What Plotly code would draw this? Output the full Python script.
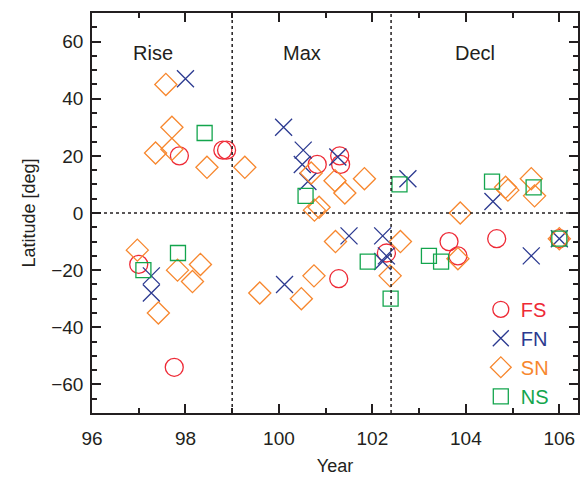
import plotly.graph_objects as go

# FS: red circles
fs_year = [97.0, 97.76, 97.87, 98.8, 98.88, 100.82, 101.3, 101.32, 101.28, 102.3, 103.64, 103.83, 104.66, 106.0]
fs_lat = [-18, -54, 20, 22, 22, 17, 20, 17, -23, -14, -10, -15, -9, -9]

# FN: blue crosses
fn_year = [97.27, 97.27, 98.0, 100.1, 100.52, 100.5, 100.62, 101.26, 100.12, 101.5, 102.22, 102.3, 102.22, 102.76, 104.58, 105.4, 106.0]
fn_lat = [-22, -28, 47, 30, 22, 17, 11, 19.6, -25, -8, -8, -15, -17, 12, 4, -15, -9]

# SN: orange diamonds
sn_year = [97.58, 97.71, 97.36, 97.71, 98.46, 99.27, 100.69, 100.76, 100.86, 101.2, 101.41, 101.83,
           103.88, 104.85, 104.9, 105.4, 105.47, 96.97, 97.42, 97.83, 98.32, 98.15, 99.59, 100.48,
           100.75, 101.21, 102.6, 102.38, 103.83, 106.0]
sn_lat = [45, 30, 21, 22.3, 16, 16, 14, 1, 2, 11.3, 7, 12,
          0, 9, 8, 12, 6, -13, -35, -20, -18, -24, -28, -30,
          -22, -10, -10, -22, -16, -9]

# NS: green squares
ns_year = [98.41, 100.57, 102.58, 104.56, 105.45, 97.1, 97.84, 101.9, 102.39, 103.21, 103.47, 106.0]
ns_lat = [28, 6, 10, 11, 9, -20, -14, -17, -30, -15, -17, -9]

phase_bounds = [99.0, 102.4]
phase_labels = ["Rise", "Max", "Decl"]
phase_label_x = [97.3, 100.5, 104.2]

RED = "#ee2a36"
BLUE = "#2b3990"
ORANGE = "#f7872e"
GREEN = "#13a54d"
INK = "#231f20"

fig = go.Figure()

series = [
    ("FS", fs_year, fs_lat, "circle-open", RED, 18),
    ("FN", fn_year, fn_lat, "x-thin-open", BLUE, 17),
    ("SN", sn_year, sn_lat, "diamond-open", ORANGE, 17),
    ("NS", ns_year, ns_lat, "square-open", GREEN, 15),
]
for name, xs, ys, sym, col, sz in series:
    fig.add_trace(go.Scatter(
        x=xs, y=ys, mode="markers",
        name=f"<span style='color:{col}'>{name}</span>",
        marker=dict(symbol=sym, size=sz, color=col, line=dict(color=col, width=1.3)),
    ))

for xb in phase_bounds:
    fig.add_shape(type="line", xref="x", yref="paper", x0=xb, x1=xb, y0=0, y1=1,
                  line=dict(color=INK, width=1.5, dash="dot"))
fig.add_shape(type="line", xref="paper", yref="y", x0=0, x1=1, y0=0, y1=0,
              line=dict(color=INK, width=1.5, dash="dot"))

for lab, lx in zip(phase_labels, phase_label_x):
    fig.add_annotation(x=lx, y=56, text=lab, showarrow=False,
                       font=dict(size=20, color=INK))

axis_common = dict(
    showgrid=False, zeroline=False, showline=True, linecolor=INK, linewidth=1.5,
    mirror="ticks", ticks="inside", tickcolor=INK, tickwidth=1.5, ticklen=9,
    tickfont=dict(size=19, color=INK), title_font=dict(size=18, color=INK),
)

fig.update_xaxes(range=[96, 106.4], dtick=2, tick0=96, title_text="Year",
                 minor=dict(ticks="inside", dtick=1, ticklen=5, tickcolor=INK, tickwidth=1.5),
                 ticklabelstandoff=7, title_standoff=12, **axis_common)
fig.update_yaxes(range=[-70, 70], dtick=20, tick0=0, title_text="Latitude [deg]",
                 minor=dict(ticks="inside", dtick=5, ticklen=5, tickcolor=INK, tickwidth=1.5),
                 ticklabelstandoff=3, title_standoff=11, **axis_common)

fig.update_layout(
    width=581, height=480,
    margin=dict(l=92, r=1, t=13, b=67),
    paper_bgcolor="white", plot_bgcolor="white",
    font=dict(family="Liberation Sans, Arial, sans-serif", color=INK),
    legend=dict(x=0.80, y=0.308, xanchor="left", yanchor="top",
                bgcolor="rgba(0,0,0,0)", font=dict(size=20), tracegroupgap=0,
                itemsizing="trace"),
)

fig.write_html("out.html")
